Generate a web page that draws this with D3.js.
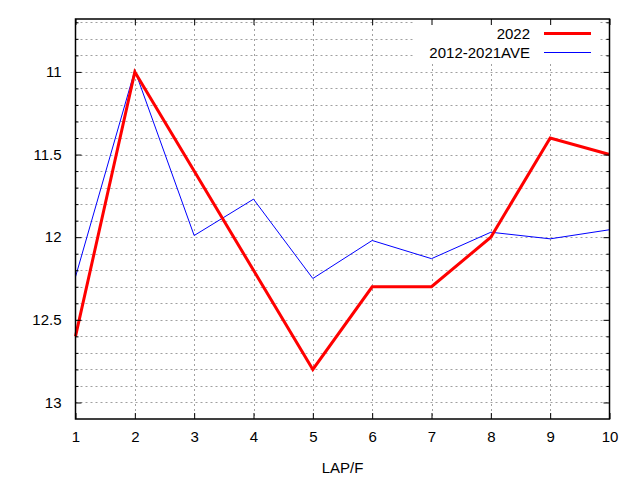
<!DOCTYPE html>
<html lang="en">
<head>
    <meta charset="UTF-8">
    <title>LAP/F chart</title>
    <style>
        body{ margin:0; background:#fff; }
        svg text{ font-family: "Liberation Sans", Arial, sans-serif; font-size: 15px; fill:#000; }
        .grid line{ stroke:#a0a0a0; stroke-width:1px; stroke-dasharray:2,3; }
        .axis path{ display:none; }
        .axis line{ stroke:#000; }
        .line2022{ fill:none; stroke:#ff0000; stroke-width:3px; }
        .lineAve{ fill:none; stroke:#0000ff; stroke-width:1px; }
    </style>
    <script src="https://cdn.jsdelivr.net/npm/d3@7"></script>
</head>
<body>
<svg id="main" width="640" height="480"></svg>
<script>
    // data
    const laps = [1, 2, 3, 4, 5, 6, 7, 8, 9, 10]
    const data2022 = [12.6, 11.0, 11.6, 12.2, 12.8, 12.3, 12.3, 12.0, 11.4, 11.5]
    const dataAve = [12.24, 10.99, 11.99, 11.77, 12.25, 12.02, 12.13, 11.97, 12.01, 11.955]
    const yTickLabels = [11, 11.5, 12, 12.5, 13]
    const yMinorTicks = [10.7, 10.8, 10.9, 11, 11.1, 11.2, 11.3, 11.4, 11.5, 11.6, 11.7, 11.8, 11.9,
        12, 12.1, 12.2, 12.3, 12.4, 12.5, 12.6, 12.7, 12.8, 12.9, 13]
    const seriesNames = ["2022", "2012-2021AVE"]

    const margins = { top: 19, bottom: 61, left: 75.5, right: 30.5 }
    const W = 640, H = 480
    const svg = d3.select("#main")

    const xScale = d3.scaleLinear()
        .domain([1, 10])
        .range([margins.left, W - margins.right])
    const yScale = d3.scaleLinear()
        .domain([10.68, 13.1])
        .range([margins.top, H - margins.bottom])

    const x0 = margins.left, x1 = W - margins.right
    const y0 = margins.top, y1 = H - margins.bottom

    // grid
    const grid = svg.append("g").attr("class", "grid")
    grid.selectAll(".hg")
        .data(yMinorTicks)
        .enter()
        .append("line")
        .attr("x1", x0).attr("x2", x1)
        .attr("y1", d => Math.round(yScale(d)) + 0.5)
        .attr("y2", d => Math.round(yScale(d)) + 0.5)
    grid.selectAll(".vg")
        .data(laps.slice(1, -1))
        .enter()
        .append("line")
        .attr("y1", y0).attr("y2", y1)
        .attr("x1", d => Math.round(xScale(d)) + 0.5)
        .attr("x2", d => Math.round(xScale(d)) + 0.5)

    // opaque key box
    svg.append("rect")
        .attr("x", 413).attr("y", y0 + 1)
        .attr("width", 185).attr("height", 43)
        .attr("fill", "#fff")

    // lines
    const line2022 = d3.line()
        .x((d, i) => xScale(laps[i]))
        .y(d => yScale(d))
    svg.append("path")
        .datum(dataAve)
        .attr("class", "lineAve")
        .attr("d", line2022)
    svg.append("path")
        .datum(data2022)
        .attr("class", "line2022")
        .attr("d", line2022)

    // axes
    const minorOnly = yMinorTicks.filter(v => !yTickLabels.some(t => Math.abs(t - v) < 1e-6))
    svg.append("g")
        .attr("class", "axis")
        .attr("transform", `translate(${x0},0)`)
        .call(d3.axisLeft(yScale).tickValues(yTickLabels).tickSize(-6).tickPadding(14)
            .tickFormat(d3.format("")))
    svg.append("g")
        .attr("class", "axis")
        .attr("transform", `translate(${x0},0)`)
        .call(d3.axisLeft(yScale).tickValues(minorOnly).tickSize(-3).tickFormat(""))
    svg.append("g")
        .attr("class", "axis")
        .attr("transform", `translate(${x1},0)`)
        .call(d3.axisRight(yScale).tickValues(yTickLabels).tickSize(-6).tickFormat(""))
    svg.append("g")
        .attr("class", "axis")
        .attr("transform", `translate(${x1},0)`)
        .call(d3.axisRight(yScale).tickValues(minorOnly).tickSize(-3).tickFormat(""))
    svg.append("g")
        .attr("class", "axis")
        .attr("transform", `translate(0,${y1})`)
        .call(d3.axisBottom(xScale).tickValues(laps).tickSize(-6).tickPadding(12.5)
            .tickFormat(d3.format("d")))
    svg.append("g")
        .attr("class", "axis")
        .attr("transform", `translate(0,${y0})`)
        .call(d3.axisTop(xScale).tickValues(laps).tickSize(-6).tickFormat(""))

    // border
    svg.append("rect")
        .attr("x", x0).attr("y", y0)
        .attr("width", x1 - x0).attr("height", y1 - y0)
        .attr("fill", "none").attr("stroke", "#000").attr("stroke-width", 1.5)

    // x label
    svg.append("text")
        .attr("x", (x0 + x1) / 2).attr("y", 473)
        .attr("text-anchor", "middle")
        .text("LAP/F")

    // key
    const key = svg.append("g")
    const keyClasses = ["line2022", "lineAve"]
    seriesNames.forEach((name, i) => {
        const cy = 33.5 + i * 19
        key.append("text")
            .attr("x", 530).attr("y", cy + 5)
            .attr("text-anchor", "end")
            .text(name)
        key.append("line")
            .attr("class", keyClasses[i])
            .attr("x1", 544).attr("x2", 591)
            .attr("y1", cy).attr("y2", cy)
    })
</script>
</body>
</html>
